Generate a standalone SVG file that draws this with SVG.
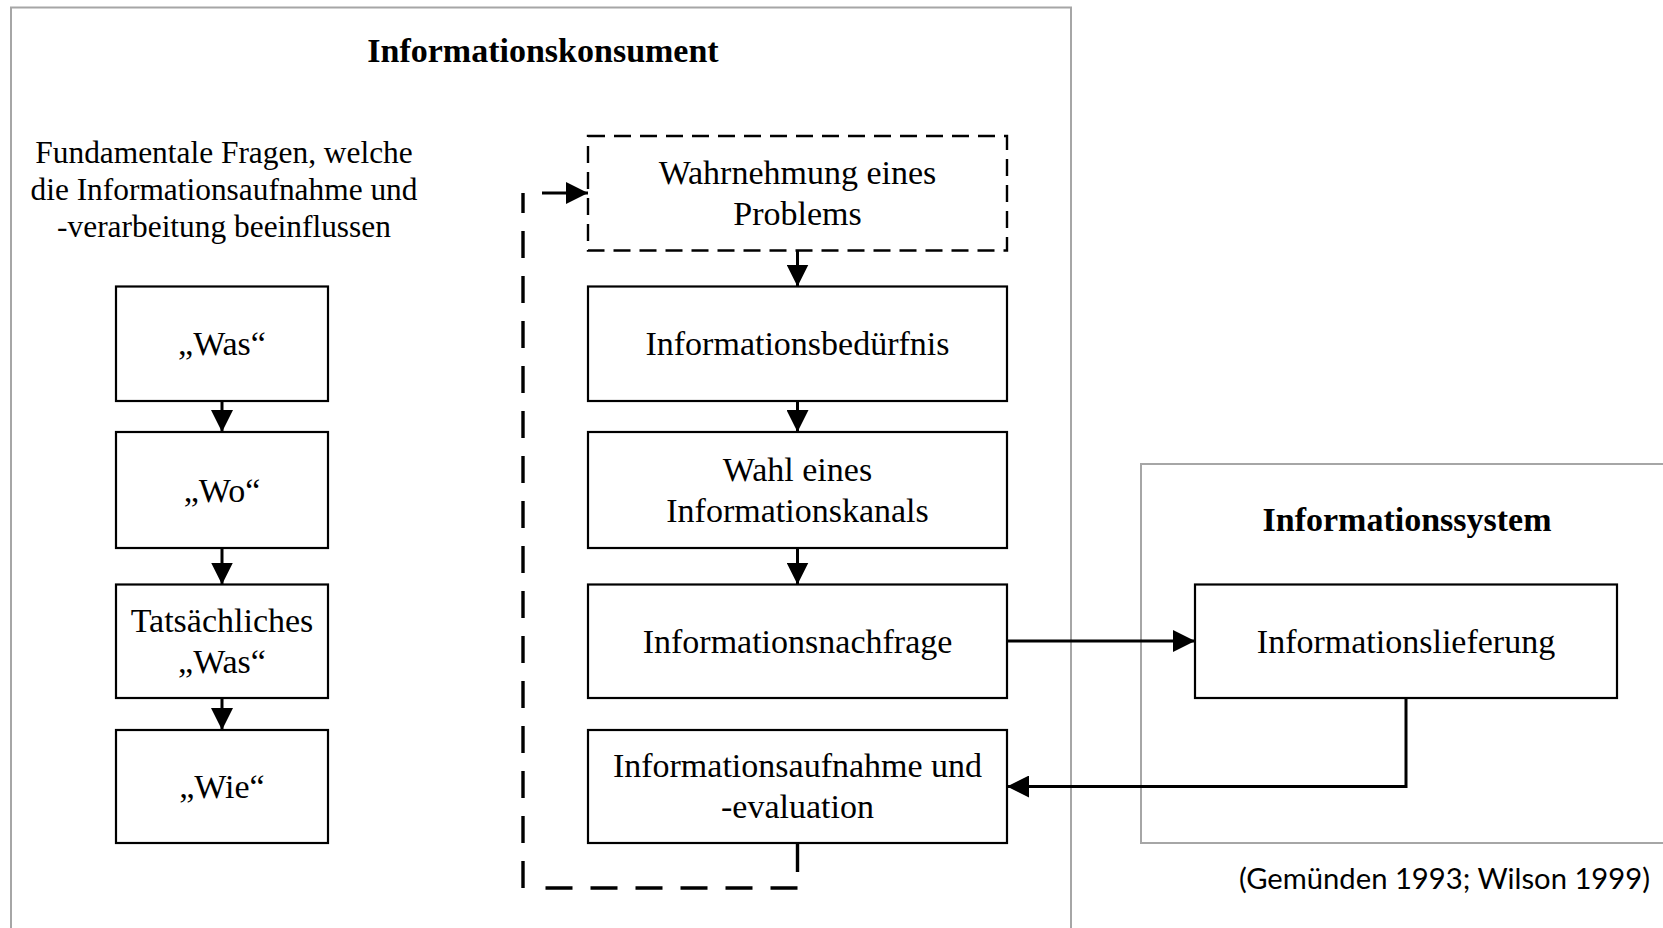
<svg xmlns="http://www.w3.org/2000/svg" width="1663" height="928" viewBox="0 0 1663 928">
<style>
.frame{fill:none;stroke:#a6a6a6;stroke-width:2}
.box{fill:#fff;stroke:#000;stroke-width:2.2}
.dbox{fill:#fff;stroke:#000;stroke-width:2.4;stroke-dasharray:17 9}
.t{font-family:"Liberation Serif","Times New Roman",serif;font-size:34px;fill:#000;text-anchor:middle}
.h{font-family:"Liberation Serif","Times New Roman",serif;font-size:34px;font-weight:bold;fill:#000;text-anchor:middle}
.f{font-family:"Liberation Serif","Times New Roman",serif;font-size:31.4px;fill:#000;text-anchor:middle}
.c{font-family:Lato,"Open Sans","Liberation Sans",sans-serif;font-size:29px;fill:#000}
.arr{fill:none;stroke:#000;stroke-width:3;marker-end:url(#ah)}
.fb{fill:none;stroke:#000;stroke-width:3.4;stroke-dasharray:27 18}
.fs{fill:none;stroke:#000;stroke-width:3.4}
</style>
<defs>
<marker id="ah" markerUnits="userSpaceOnUse" markerWidth="22" markerHeight="22" refX="22" refY="11" orient="auto">
<path d="M0,0 L22,11 L0,22 z" fill="#000"/>
</marker>
</defs>
<rect width="1663" height="928" fill="#fff"/>
<g id="konsument">
<rect class="frame" x="11" y="7.5" width="1060" height="940"/>
<text class="h" x="543" y="62">Informationskonsument</text>
<text class="f" x="224" y="163">Fundamentale Fragen, welche</text>
<text class="f" x="224" y="200">die Informationsaufnahme und</text>
<text class="f" x="224" y="237">-verarbeitung beeinflussen</text>
</g>
<g id="system">
<rect class="frame" x="1141" y="464" width="560" height="379"/>
<text class="h" x="1407" y="531">Informationssystem</text>
</g>
<g id="was"><rect class="box" x="116" y="286.5" width="212" height="114.5"/><text class="t" x="222" y="355">„Was“</text></g>
<g id="wo"><rect class="box" x="116" y="432" width="212" height="116"/><text class="t" x="222" y="501.5">„Wo“</text></g>
<g id="tatsaechliches"><rect class="box" x="116" y="584.5" width="212" height="113.5"/><text class="t" x="222" y="631.5">Tatsächliches</text><text class="t" x="222" y="672.5">„Was“</text></g>
<g id="wie"><rect class="box" x="116" y="730" width="212" height="113"/><text class="t" x="222" y="798">„Wie“</text></g>
<g id="wahrnehmung"><rect class="dbox" x="588" y="136" width="419" height="114.5"/><text class="t" x="797.5" y="183.5">Wahrnehmung eines</text><text class="t" x="797.5" y="224.5">Problems</text></g>
<g id="beduerfnis"><rect class="box" x="588" y="286.5" width="419" height="114.5"/><text class="t" x="797.5" y="355">Informationsbedürfnis</text></g>
<g id="kanal"><rect class="box" x="588" y="432" width="419" height="116"/><text class="t" x="797.5" y="480.5">Wahl eines</text><text class="t" x="797.5" y="521.5">Informationskanals</text></g>
<g id="nachfrage"><rect class="box" x="588" y="584.5" width="419" height="113.5"/><text class="t" x="797.5" y="652.5">Informationsnachfrage</text></g>
<g id="aufnahme"><rect class="box" x="588" y="730" width="419" height="113"/><text class="t" x="797.5" y="777">Informationsaufnahme und</text><text class="t" x="797.5" y="818">-evaluation</text></g>
<g id="lieferung"><rect class="box" x="1195" y="584.5" width="422" height="113.5"/><text class="t" x="1406" y="652.5">Informationslieferung</text></g>
<g id="connectors">
<path class="arr" d="M222 401 V432"/>
<path class="arr" d="M222 548 V584.5"/>
<path class="arr" d="M222 698 V730"/>
<path class="arr" d="M797.5 250.5 V286.5"/>
<path class="arr" d="M797.5 401 V432"/>
<path class="arr" d="M797.5 548 V584.5"/>
<path class="arr" d="M1007 641 H1195"/>
<path class="arr" d="M1406 698 V786.5 H1007"/>
<path class="fs" d="M797.5 843 V872"/>
<path class="fb" d="M797.5 888 H544"/>
<path class="fb" d="M523 888 V193"/>
<path class="arr" d="M542 193 H588"/>
</g>
<text class="c" x="1239" y="889" textLength="411" lengthAdjust="spacingAndGlyphs">(Gemünden 1993; Wilson 1999)</text>
</svg>
